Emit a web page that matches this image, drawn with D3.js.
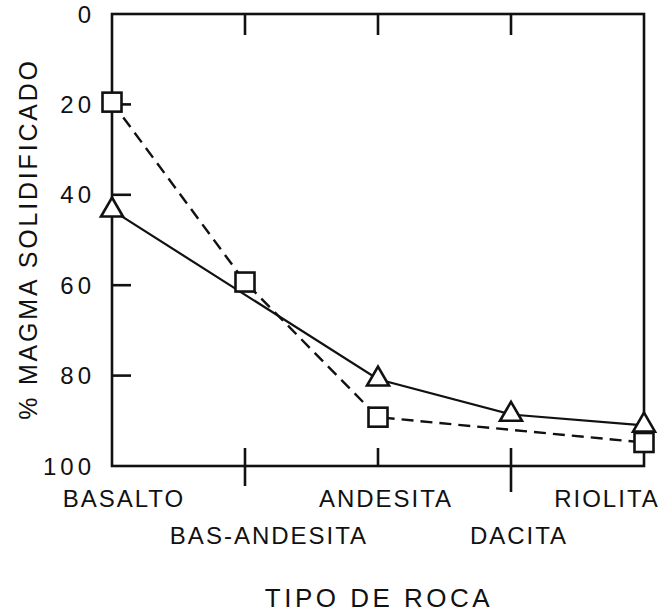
<!DOCTYPE html>
<html>
<head>
<meta charset="utf-8">
<script src="https://cdn.jsdelivr.net/npm/d3@7"></script>
<style>
  body { margin: 0; background: #fff; }
  svg text { font-family: "Liberation Sans", Arial, sans-serif; fill: #111; }
</style>
</head>
<body>
<svg id="chart" width="669" height="615"></svg>
<script>
// data
var rocks = ["BASALTO", "BAS-ANDESITA", "ANDESITA", "DACITA", "RIOLITA"];
var squareVals = [19.5, 59.3, 89.2, null, 94.8];   // dashed line
var triangleVals = [43.4, null, 80.8, 88.6, 91];  // solid line
var yTicks = [0, 20, 40, 60, 80, 100];

var svg = d3.select("#chart");
var ink = "#111";

// plot frame
var plotL = 112, plotR = 644, plotT = 14, plotB = 466;

var x = d3.scalePoint()
    .domain(rocks)
    .range([plotL, plotR]);

var y = d3.scaleLinear()
    .domain([0, 100])
    .range([plotT, plotB]);

// box
svg.append("rect")
    .attr("x", plotL)
    .attr("y", plotT)
    .attr("width", plotR - plotL)
    .attr("height", plotB - plotT)
    .attr("fill", "none")
    .attr("stroke", ink)
    .attr("stroke-width", 2.6);

// left axis ticks (inward) and labels
svg.selectAll(".ytick")
    .data(yTicks.filter(function(d) { return d > 0 && d < 100; }))
    .enter()
    .append("line")
    .attr("x1", plotL)
    .attr("x2", plotL + 19)
    .attr("y1", function(d) { return y(d); })
    .attr("y2", function(d) { return y(d); })
    .attr("stroke", ink)
    .attr("stroke-width", 2.6);

svg.selectAll(".ylab")
    .data(yTicks)
    .enter()
    .append("text")
    .attr("x", 95)
    .attr("y", function(d) { return y(d); })
    .attr("dy", "0.36em")
    .attr("text-anchor", "end")
    .attr("font-size", "24px")
    .attr("letter-spacing", "4px")
    .text(function(d) { return d; });

// inner category ticks on top and bottom
var inner = rocks.slice(1, 4);
// how far each bottom tick pokes out below the axis
var tickOut = [20, 0, 26];

svg.selectAll(".ttick")
    .data(inner)
    .enter()
    .append("line")
    .attr("x1", function(d) { return x(d); })
    .attr("x2", function(d) { return x(d); })
    .attr("y1", plotT)
    .attr("y2", plotT + 21)
    .attr("stroke", ink)
    .attr("stroke-width", 2.6);

svg.selectAll(".btick")
    .data(inner)
    .enter()
    .append("line")
    .attr("x1", function(d) { return x(d); })
    .attr("x2", function(d) { return x(d); })
    .attr("y1", plotB - 18)
    .attr("y2", function(d, i) { return plotB + tickOut[i]; })
    .attr("stroke", ink)
    .attr("stroke-width", 2.6);

// category labels, staggered on two rows
var labelDx = [12, 24, 8, 8, -37];
svg.selectAll(".xlab")
    .data(rocks)
    .enter()
    .append("text")
    .attr("x", function(d, i) { return x(d) + labelDx[i]; })
    .attr("y", function(d, i) { return i % 2 == 0 ? 507 : 544; })
    .attr("text-anchor", "middle")
    .attr("font-size", "24px")
    .attr("letter-spacing", "2px")
    .text(function(d) { return d; });

// axis titles
svg.append("text")
    .attr("x", 379)
    .attr("y", 607)
    .attr("text-anchor", "middle")
    .attr("font-size", "26px")
    .attr("letter-spacing", "3.5px")
    .text("TIPO DE ROCA");

svg.append("text")
    .attr("transform", "translate(37,239) rotate(-90)")
    .attr("text-anchor", "middle")
    .attr("font-size", "25px")
    .attr("letter-spacing", "2.8px")
    .text("% MAGMA SOLIDIFICADO");

// series
function points(vals) {
    return rocks.map(function(r, i) { return [r, vals[i]]; })
        .filter(function(p) { return p[1] != null; });
}

var line = d3.line()
    .x(function(p) { return x(p[0]); })
    .y(function(p) { return y(p[1]); });

svg.append("path")
    .attr("d", line(points(squareVals)))
    .attr("fill", "none")
    .attr("stroke", ink)
    .attr("stroke-width", 2.4)
    .attr("stroke-dasharray", "12,7");

svg.append("path")
    .attr("d", line(points(triangleVals)))
    .attr("fill", "none")
    .attr("stroke", ink)
    .attr("stroke-width", 2.2);

// markers, white filled so lines stop at their edges
var sq = 19;
svg.selectAll(".sq")
    .data(points(squareVals))
    .enter()
    .append("rect")
    .attr("x", function(p) { return x(p[0]) - sq / 2; })
    .attr("y", function(p) { return y(p[1]) - sq / 2; })
    .attr("width", sq)
    .attr("height", sq)
    .attr("fill", "#fff")
    .attr("stroke", ink)
    .attr("stroke-width", 2.6);

// triangles sit with the point at their centroid
var tw = 22, th = 19;
svg.selectAll(".tri")
    .data(points(triangleVals))
    .enter()
    .append("path")
    .attr("d", function(p) {
        var cx = x(p[0]), cy = y(p[1]);
        return "M" + cx + "," + (cy - th * 2 / 3) +
            "L" + (cx + tw / 2) + "," + (cy + th / 3) +
            "L" + (cx - tw / 2) + "," + (cy + th / 3) + "Z";
    })
    .attr("fill", "#fff")
    .attr("stroke", ink)
    .attr("stroke-width", 2.6)
    .attr("stroke-linejoin", "miter");
</script>
</body>
</html>
